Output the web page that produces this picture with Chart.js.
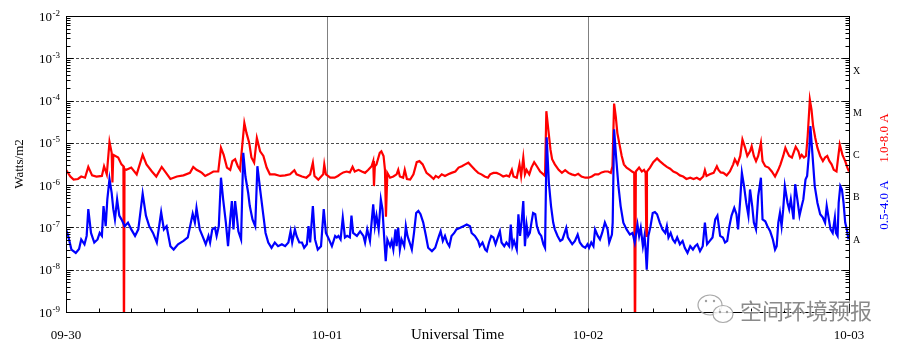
<!DOCTYPE html>
<html><head><meta charset="utf-8">
<script src="https://cdn.jsdelivr.net/npm/chart.js@4.4.0/dist/chart.umd.min.js"></script>
<style>html,body{margin:0;padding:0;background:#fff;}#wrap{width:900px;height:350px;}</style>
</head><body><div id="wrap"><canvas id="c" width="900" height="350"></canvas></div>
<script>
// ---- data (time in hours since 09-30 00:00 UT, flux in W/m2) ----
const dayTicks = [0, 24, 48, 72];
const dayLabels = ['09-30', '10-01', '10-02', '10-03'];
const decadeExps = [-2, -3, -4, -5, -6, -7, -8, -9];
const classLabels = ['X', 'M', 'C', 'B', 'A'];
const classLevels = [5e-4, 5e-5, 5e-6, 5e-7, 5e-8];
const longLabel = '1.0-8.0 A';
const shortLabel = '0.5-4.0 A';

const longTimes = [
0,0.4,0.7,1.1,1.4,1.75,2.05,2.4,2.8,3.3,
3.5,3.75,4.0,4.2,4.27,4.35,4.8,5.1,5.28,5.33,
5.38,5.55,6.0,6.5,7.05,7.4,7.9,8.3,8.8,9.3,
9.6,10.2,10.8,11.4,11.7,12.0,12.3,12.5,12.8,13.1,
13.55,14.0,14.25,14.5,14.8,15.1,15.3,15.55,15.8,16.0,
16.4,16.6,16.85,17.05,17.3,17.55,17.85,18.15,18.45,18.75,
19.2,19.7,20.15,20.6,21.0,21.2,21.7,22.1,22.45,22.7,
22.85,23.2,23.65,23.75,23.9,24.3,24.7,25.0,25.2,25.5,
25.8,26.1,26.35,26.55,26.9,27.2,27.5,27.8,28.1,28.25,
28.32,28.4,28.55,28.85,29.0,29.2,29.33,29.42,29.55,29.8,
30.1,30.4,30.55,30.7,31.0,31.15,31.35,31.65,31.95,32.25,
32.5,32.8,33.15,33.5,33.8,34.0,34.25,34.55,34.85,35.15,
35.45,35.8,36.1,36.4,36.7,37.0,37.3,37.6,37.9,38.2,
38.5,38.8,39.0,39.3,39.6,39.9,40.2,40.5,40.75,41.0,
41.15,41.45,41.7,41.85,42.05,42.2,42.35,42.6,42.8,43.05,
43.3,43.6,43.9,44.05,44.17,44.35,44.55,44.7,44.95,45.3,
45.6,45.9,46.2,46.5,46.8,47.1,47.4,47.75,48.05,48.35,
48.65,48.95,49.25,49.55,49.85,50.1,50.25,50.4,50.55,50.7,
50.9,51.1,51.3,51.55,51.85,52.05,52.25,52.32,52.4,52.7,
52.95,53.15,53.3,53.36,53.42,53.7,54.0,54.35,54.6,54.95,
55.25,55.55,55.85,56.15,56.45,56.75,57.05,57.4,57.7,58.0,
58.3,58.6,58.75,58.9,59.2,59.55,59.85,60.0,60.2,60.45,
60.75,61.05,61.35,61.5,61.75,62.0,62.2,62.45,62.65,62.9,
63.05,63.25,63.45,63.65,63.9,64.05,64.3,64.6,64.9,65.2,
65.5,65.7,65.95,66.15,66.35,66.5,66.75,66.95,67.1,67.35,
67.5,67.65,67.85,68.05,68.2,68.4,68.55,68.7,68.9,69.1,
69.35,69.6,69.8,70.0,70.2,70.4,70.6,70.85,71.0,71.15,
71.4,71.65,71.85,72.0
];
const longFlux = [
2.3e-6,1.6e-6,1.35e-6,1.4e-6,1.6e-6,1.5e-6,2.7e-6,1.7e-6,1.6e-6,1.65e-6,
2.8e-6,1.8e-6,1.05e-5,5.8e-6,1.15e-6,5.2e-6,4.5e-6,3.1e-6,2.8e-6,1e-10,
2.4e-6,2.3e-6,2.6e-6,1.8e-6,5.2e-6,3.1e-6,2.1e-6,1.6e-6,2.7e-6,1.8e-6,
1.4e-6,1.6e-6,1.7e-6,1.95e-6,2.7e-6,2.3e-6,2.1e-6,1.95e-6,1.65e-6,1.8e-6,
2.1e-6,2.1e-6,7.6e-6,5.2e-6,2.6e-6,2.3e-6,3.7e-6,4.1e-6,2.8e-6,2.3e-6,
2.95e-5,1.7e-5,1.0e-5,4.5e-6,3.4e-6,1.3e-5,6.3e-6,4.9e-6,2.6e-6,1.8e-6,
1.8e-6,1.65e-6,1.7e-6,1.8e-6,2.25e-6,1.8e-6,1.6e-6,1.5e-6,1.8e-6,3.4e-6,
1.65e-6,1.35e-6,1.8e-6,3.1e-6,1.8e-6,1.5e-6,1.5e-6,1.65e-6,1.8e-6,2.0e-6,
2.1e-6,2.0e-6,2.7e-6,2.1e-6,2.3e-6,2.1e-6,1.95e-6,2.3e-6,2.8e-6,3.7e-6,
9.5e-7,2.8e-6,3.1e-6,5.8e-6,6.3e-6,4.9e-6,2.3e-6,1.8e-7,1.95e-6,1.5e-6,
1.6e-6,1.8e-6,2.3e-6,1.6e-6,1.5e-6,2.3e-6,1.4e-6,1.35e-6,1.8e-6,3.5e-6,
3.7e-6,3.1e-6,1.95e-6,1.65e-6,1.4e-6,1.65e-6,1.5e-6,1.8e-6,1.65e-6,1.8e-6,
1.95e-6,2.1e-6,2.6e-6,2.8e-6,3.1e-6,3.4e-6,2.8e-6,2.3e-6,1.95e-6,1.8e-6,
1.6e-6,1.5e-6,1.8e-6,1.95e-6,1.95e-6,1.8e-6,1.6e-6,1.7e-6,1.6e-6,2.3e-6,
1.6e-6,1.5e-6,3.1e-6,1.65e-6,4.5e-6,1.8e-6,2.3e-6,1.8e-6,2.6e-6,3.5e-6,
2.8e-6,2.1e-6,1.8e-6,1.65e-6,5.6e-5,2.05e-5,6.9e-6,4.1e-6,3.1e-6,2.3e-6,
1.95e-6,2.25e-6,1.95e-6,1.8e-6,1.7e-6,1.85e-6,1.6e-6,1.5e-6,1.5e-6,1.6e-6,
1.8e-6,1.8e-6,2.0e-6,2.1e-6,2.1e-6,1.95e-6,2.8e-6,8.5e-5,4.3e-5,1.7e-5,
9.1e-6,4.9e-6,3.1e-6,2.6e-6,2.3e-6,2.1e-6,1.95e-6,1e-10,2.1e-6,2.6e-6,
2.1e-6,2.3e-6,1.95e-6,6.3e-8,2.1e-6,2.6e-6,3.5e-6,4.3e-6,3.7e-6,3.1e-6,
2.7e-6,2.45e-6,2.1e-6,1.95e-6,1.7e-6,1.6e-6,1.4e-6,1.5e-6,1.4e-6,1.5e-6,
1.35e-6,1.6e-6,2.25e-6,1.65e-6,1.8e-6,1.95e-6,2.8e-6,2.3e-6,2.0e-6,1.95e-6,
1.7e-6,2.1e-6,3.1e-6,4.1e-6,3.1e-6,4.9e-6,1.2e-5,7.6e-6,4.9e-6,6.3e-6,
8.3e-6,4.9e-6,3.7e-6,4.9e-6,1.0e-5,3.7e-6,2.8e-6,2.6e-6,2.1e-6,1.6e-6,
2.3e-6,3.1e-6,4.9e-6,7.6e-6,5.8e-6,4.9e-6,4.5e-6,6.3e-6,8.1e-6,6.3e-6,
4.5e-6,5.2e-6,4.5e-6,4.9e-6,1.45e-5,1.05e-4,6.2e-5,2.5e-5,1.3e-5,7.6e-6,
4.9e-6,3.7e-6,4.5e-6,4.9e-6,3.7e-6,3.1e-6,2.3e-6,2.1e-6,4.5e-6,9.1e-6,
5.2e-6,3.7e-6,2.6e-6,2.1e-6
];

const shortTimes = [
0,0.2,0.5,0.9,1.2,1.4,1.7,1.9,2.05,2.3,
2.6,2.9,3.1,3.3,3.45,3.65,3.8,4.0,4.2,4.35,
4.5,4.7,4.9,5.1,5.4,5.7,6.0,6.35,6.65,7.05,
7.35,7.65,8.0,8.35,8.75,9.0,9.25,9.6,9.9,10.3,
10.8,11.2,11.65,11.85,12.0,12.3,12.6,12.85,13.1,13.25,
13.45,13.7,13.85,14.05,14.25,14.45,14.7,14.9,15.1,15.25,
15.4,15.55,15.7,15.85,16.1,16.3,16.5,16.75,16.9,17.15,
17.4,17.6,17.85,18.15,18.35,18.6,18.9,19.2,19.5,19.85,
20.15,20.45,20.65,20.8,21.05,21.2,21.45,21.7,21.9,22.15,
22.3,22.45,22.7,22.9,23.15,23.45,23.7,23.9,24.1,24.45,
24.75,24.9,25.05,25.25,25.45,25.65,25.85,26.1,26.25,26.4,
26.75,27.05,27.35,27.5,27.7,27.95,28.1,28.25,28.4,28.55,
28.75,28.95,29.1,29.25,29.4,29.55,29.8,29.95,30.1,30.3,
30.4,30.55,30.7,30.85,31.1,31.25,31.4,31.65,31.8,32.0,
32.2,32.4,32.6,32.85,33.1,33.3,33.65,33.95,34.1,34.3,
34.45,34.65,34.85,35.05,35.25,35.45,35.7,35.9,36.25,36.55,
36.85,37.15,37.3,37.6,37.9,38.05,38.3,38.55,38.7,38.9,
39.1,39.3,39.5,39.75,39.9,40.05,40.3,40.5,40.75,40.9,
41.05,41.2,41.45,41.6,41.75,41.9,42.05,42.2,42.35,42.5,
42.65,42.8,42.95,43.15,43.3,43.5,43.7,43.9,44.05,44.2,
44.4,44.6,44.8,44.95,45.2,45.45,45.65,45.85,46.0,46.15,
46.35,46.55,46.8,47.05,47.25,47.5,47.75,47.95,48.1,48.3,
48.5,48.65,48.9,49.1,49.3,49.55,49.8,49.95,50.2,50.27,
50.4,50.6,50.8,51.0,51.25,51.55,51.85,52.1,52.3,52.55,
52.7,52.85,53.05,53.2,53.3,53.4,53.55,53.75,53.95,54.15,
54.35,54.6,54.85,55.1,55.25,55.4,55.6,55.8,56.0,56.2,
56.45,56.7,56.9,57.15,57.4,57.65,57.85,58.05,58.3,58.55,
58.75,58.95,59.2,59.45,59.7,59.9,60.15,60.4,60.6,60.8,
61.0,61.2,61.45,61.65,61.8,62.0,62.15,62.35,62.55,62.75,
62.9,63.1,63.25,63.45,63.65,63.9,64.05,64.3,64.5,64.75,
65.0,65.2,65.35,65.5,65.65,65.8,65.95,66.1,66.35,66.5,
66.65,66.9,67.05,67.25,67.45,67.65,67.8,68.0,68.15,68.35,
68.45,68.65,68.85,69.1,69.35,69.6,69.8,69.95,70.15,70.3,
70.5,70.7,70.8,70.95,71.05,71.2,71.35,71.5,71.65,71.8,
71.95
];
const shortFlux = [
9e-8,6.3e-8,3.0e-8,2.5e-8,3.1e-8,5.2e-8,4.0e-8,6.3e-8,2.7e-7,7.4e-8,
4.4e-8,5.2e-8,7.4e-8,6.3e-8,3.2e-7,1.07e-7,4.6e-7,1.4e-6,6.6e-7,2.7e-7,
1.55e-7,4.6e-7,1.9e-7,1.55e-7,1.07e-7,1.3e-7,9e-8,6.3e-8,9e-8,6.3e-7,
1.9e-7,1.07e-7,7.4e-8,4.4e-8,2.3e-7,9e-8,1.07e-7,3.6e-8,3.0e-8,4.0e-8,
4.8e-8,5.8e-8,2.1e-7,1.3e-7,2.9e-7,9e-8,5.8e-8,4.0e-8,6.3e-8,4.4e-8,
9e-8,9.8e-8,6.3e-8,1.07e-7,1.5e-6,4.6e-7,1.3e-7,3.6e-8,1.55e-7,4.2e-7,
9e-8,4.2e-7,1.9e-7,8.1e-8,5.2e-8,5.8e-6,1.6e-6,6.6e-7,3.2e-7,1.55e-7,
1.07e-7,2.8e-6,7.9e-7,1.9e-7,7.4e-8,4.4e-8,3.3e-8,4.4e-8,3.6e-8,4.0e-8,
3.6e-8,4.4e-8,8.1e-8,4.4e-8,9e-8,6.3e-8,4.4e-8,4.4e-8,3.3e-8,4.0e-8,
1.07e-7,4.4e-8,3.2e-7,5.2e-8,3.0e-8,3.6e-8,2.7e-7,7.4e-8,5.8e-8,3.6e-8,
6.3e-8,5.8e-8,6.3e-8,5.2e-8,1.7e-7,5.8e-8,6.3e-8,5.8e-8,1.9e-7,7.4e-8,
6.3e-8,8.1e-8,6.3e-8,4.4e-8,9e-8,4.8e-8,1.3e-7,3.5e-7,1.07e-7,1.9e-7,
9e-8,4.6e-7,2.7e-7,6.3e-8,1.6e-8,5.2e-8,3.6e-8,4.8e-8,3.0e-8,9e-8,
3.6e-8,9.8e-8,3.0e-8,5.2e-8,3.6e-8,1.07e-7,6.3e-8,4.0e-8,3.0e-8,7.4e-8,
2.2e-7,2.45e-7,2.05e-7,1.3e-7,6.3e-8,3.3e-8,2.75e-8,3.3e-8,4.4e-8,6.3e-8,
8.1e-8,4.8e-8,6.3e-8,4.4e-8,3.6e-8,6.3e-8,7.4e-8,9e-8,9.8e-8,1.07e-7,
1.17e-7,1.07e-7,7.4e-8,6.3e-8,4.8e-8,3.6e-8,4.4e-8,3.0e-8,2.75e-8,4.4e-8,
6.3e-8,5.8e-8,4.0e-8,6.3e-8,8.1e-8,4.4e-8,3.6e-8,4.4e-8,3.6e-8,1.17e-7,
3.6e-8,4.8e-8,3.0e-8,2.05e-7,6.3e-8,1.4e-7,4.2e-7,3.6e-8,1.17e-7,6.3e-8,
7.4e-8,1.3e-7,2.2e-7,2.05e-7,1.07e-7,7.4e-8,6.3e-8,4.0e-8,3.3e-8,1.35e-5,
1.15e-6,3.2e-7,1.3e-7,9e-8,6.3e-8,4.8e-8,5.2e-8,7.4e-8,9.8e-8,5.8e-8,
4.8e-8,4.0e-8,4.8e-8,6.8e-8,4.4e-8,3.6e-8,3.3e-8,4.0e-8,3.3e-8,4.4e-8,
3.6e-8,9e-8,6.3e-8,5.2e-8,7.4e-8,1.3e-7,9e-8,4.4e-8,6.8e-8,1.3e-7,
2.1e-5,4.1e-6,9.5e-7,3.2e-7,1.3e-7,9e-8,6.8e-8,7.4e-8,4.4e-8,1.17e-7,
6.3e-8,9.8e-8,3.6e-8,6.3e-8,3.0e-8,1.0e-8,6.3e-8,1.07e-7,2.2e-7,2.3e-7,
2.05e-7,1.3e-7,9e-8,7.4e-8,1.07e-7,5.8e-8,7.4e-8,5.2e-8,4.4e-8,5.8e-8,
4.0e-8,4.8e-8,3.3e-8,2.5e-8,3.6e-8,3.0e-8,3.6e-8,4.0e-8,2.75e-8,3.6e-8,
1.3e-7,4.0e-8,4.8e-8,5.8e-8,1.55e-7,1.9e-7,6.3e-8,5.8e-8,4.4e-8,4.8e-8,
1.07e-7,1.9e-7,2.9e-7,2.05e-7,9e-8,4.6e-7,1.95e-6,9.5e-7,3.8e-7,1.9e-7,
7.9e-7,3.2e-7,1.3e-7,9e-8,5.5e-7,1.5e-6,1.55e-7,1.4e-7,1.07e-7,8.1e-8,
5.2e-8,3.0e-8,3.6e-8,1.3e-7,2.2e-7,1.07e-7,2.7e-7,9.5e-7,3.8e-7,2.7e-7,
4.6e-7,1.55e-7,1.05e-6,4.6e-7,1.9e-7,3.2e-7,4.6e-7,1.35e-6,1.65e-6,6.9e-6,
2.5e-5,4.9e-6,9.5e-7,3.8e-7,2.05e-7,1.7e-7,1.3e-7,3.2e-7,1.55e-7,9e-8,
7.4e-8,1.7e-7,7.4e-8,6.3e-8,3.8e-7,9.5e-7,7.9e-7,3.8e-7,1.3e-7,9e-8,
5.2e-8
];

const SERIF = '"Liberation Serif","Times New Roman",serif';
const RED = '#ff0000', BLUE = '#0000ff';

const longPts = longTimes.map((t, i) => ({x: t, y: longFlux[i]}));
const shortPts = shortTimes.map((t, i) => ({x: t, y: shortFlux[i]}));

const decorations = {
  id: 'decorations',
  beforeDatasetsDraw(chart) {
    const {ctx, chartArea: a, scales: {x, y}} = chart;
    ctx.save();
    ctx.lineWidth = 1;
    ctx.strokeStyle = '#808080';
    for (const t of dayTicks) {
      if (t <= x.min || t >= x.max) continue;
      const px = Math.round(x.getPixelForValue(t)) + 0.5;
      ctx.beginPath(); ctx.moveTo(px, a.top); ctx.lineTo(px, a.bottom); ctx.stroke();
    }
    ctx.strokeStyle = '#4d4d4d';
    ctx.setLineDash([3, 2]);
    for (const e of decadeExps) {
      const v = Math.pow(10, e);
      if (v <= y.min || v >= y.max) continue;
      const py = Math.round(y.getPixelForValue(v)) + 0.5;
      ctx.beginPath(); ctx.moveTo(a.left, py); ctx.lineTo(a.right, py); ctx.stroke();
    }
    ctx.restore();
  },
  afterDatasetsDraw(chart) {
    const {ctx, chartArea: a, scales: {x, y}} = chart;
    ctx.save();
    ctx.strokeStyle = '#000'; ctx.lineWidth = 1;
    const L = Math.round(a.left) + 0.5, R = Math.round(a.right) + 0.5;
    const T = Math.round(a.top) + 0.5, B = Math.round(a.bottom) + 0.5;
    ctx.strokeRect(L, T, R - L, B - T);
    ctx.beginPath();
    for (let e = -9; e < -2; e++) {
      for (let m = 1; m < 10; m++) {
        const py = Math.round(y.getPixelForValue(m * Math.pow(10, e))) + 0.5;
        const len = m === 1 ? 7 : 4;
        ctx.moveTo(L, py); ctx.lineTo(L + len, py);
        ctx.moveTo(R, py); ctx.lineTo(R - len, py);
      }
    }
    for (let h = 3; h < 72; h += 3) {
      const px = Math.round(x.getPixelForValue(h)) + 0.5;
      ctx.moveTo(px, B); ctx.lineTo(px, B - 4);
    }
    ctx.stroke();

    // y tick labels 10^n
    ctx.fillStyle = '#000';
    ctx.textAlign = 'right';
    ctx.textBaseline = 'alphabetic';
    for (const e of decadeExps) {
      const py = y.getPixelForValue(Math.pow(10, e));
      ctx.font = '9px ' + SERIF;
      const sup = String(e);
      const w = ctx.measureText(sup).width;
      ctx.fillText(sup, a.left - 6, py - 0.5);
      ctx.font = '13px ' + SERIF;
      ctx.fillText('10', a.left - 6 - w - 0.5, py + 4.5);
    }
    // class labels
    ctx.font = '10px ' + SERIF;
    ctx.textAlign = 'left';
    ctx.textBaseline = 'middle';
    classLabels.forEach((s, i) => ctx.fillText(s, a.right + 4, y.getPixelForValue(classLevels[i])));
    // rotated series labels
    ctx.font = '13px ' + SERIF;
    ctx.textAlign = 'center';
    [[longLabel, RED, 138], [shortLabel, BLUE, 205]].forEach(([txt, col, cy]) => {
      ctx.save();
      ctx.translate(885, cy);
      ctx.rotate(-Math.PI / 2);
      ctx.fillStyle = col;
      ctx.fillText(txt, 0, 0);
      ctx.restore();
    });
    ctx.restore();
  },
  afterDraw(chart) {
    const {ctx} = chart;
    ctx.save();
    // WeChat-like icon
    ctx.strokeStyle = 'rgba(160,160,160,0.9)';
    ctx.lineWidth = 1.2;
    ctx.beginPath(); ctx.ellipse(710, 305, 12, 10, 0, 0, Math.PI * 2); ctx.stroke();
    ctx.fillStyle = 'rgba(255,255,255,0.85)';
    ctx.beginPath(); ctx.ellipse(723, 314, 10, 8.5, 0, 0, Math.PI * 2); ctx.fill(); ctx.stroke();
    ctx.fillStyle = 'rgba(150,150,150,0.9)';
    [[706, 301], [714, 301], [720, 312], [727, 312]].forEach(([px, py]) => {
      ctx.beginPath(); ctx.arc(px, py, 1.2, 0, Math.PI * 2); ctx.fill();
    });
    // text
    ctx.font = '22px "Noto Sans CJK SC", sans-serif';
    ctx.textAlign = 'left';
    ctx.textBaseline = 'middle';
    ctx.lineWidth = 2;
    ctx.strokeStyle = 'rgba(255,255,255,0.6)';
    ctx.strokeText('空间环境预报', 740, 311);
    ctx.fillStyle = 'rgba(125,125,125,0.9)';
    ctx.fillText('空间环境预报', 740, 311);
    ctx.restore();
  }
};

new Chart(document.getElementById('c'), {
  type: 'line',
  data: {
    datasets: [
      {label: shortLabel, data: shortPts, borderColor: BLUE, borderWidth: 2.2, pointRadius: 0, tension: 0, fill: false},
      {label: longLabel, data: longPts, borderColor: RED, borderWidth: 2.2, pointRadius: 0, tension: 0, fill: false}
    ]
  },
  options: {
    responsive: false,
    animation: false,
    devicePixelRatio: 1,
    layout: {padding: {top: 16, right: 51, bottom: 0, left: 0}},
    plugins: {legend: {display: false}, tooltip: {enabled: false}},
    scales: {
      x: {
        type: 'linear', min: 0, max: 72,
        grid: {display: false}, border: {display: false},
        afterBuildTicks: s => { s.ticks = dayTicks.map(v => ({value: v})); },
        afterFit: s => { s.height = 38; },
        ticks: {
          autoSkip: false, maxRotation: 0, minRotation: 0, padding: 8,
          color: '#000', font: {family: SERIF, size: 13},
          callback: v => dayLabels[dayTicks.indexOf(v)]
        },
        title: {display: true, text: 'Universal Time', color: '#000',
          font: {family: SERIF, size: 15}, padding: {top: 0, bottom: 6}}
      },
      y: {
        type: 'logarithmic', min: 1e-9, max: 1e-2,
        grid: {display: false}, border: {display: false},
        ticks: {display: false},
        afterFit: s => { s.width = 66; },
        title: {display: true, text: 'Watts/m2', color: '#000',
          font: {family: SERIF, size: 13}, padding: {top: 12, bottom: 0}}
      }
    }
  },
  plugins: [decorations]
});
</script>
</body></html>
